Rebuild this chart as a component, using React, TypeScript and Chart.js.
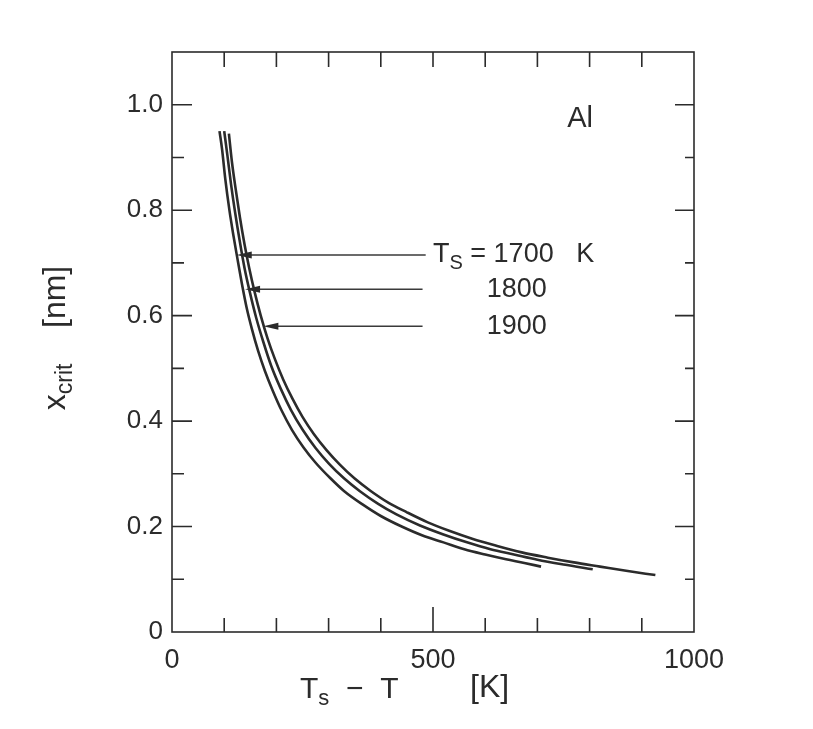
import React, { useEffect, useRef } from "react";
import { Chart, registerables } from "chart.js";

Chart.register(...registerables);

// Ts - T [K]  vs  x_crit [nm]
const deltaT1700 = [91, 96, 102, 110, 118, 125, 134, 143, 153, 165, 178, 192, 210, 230, 252, 276, 303, 330, 365, 400, 440, 480, 520, 560, 600, 640, 675, 707];
const xcrit1700 = [0.95, 0.915, 0.86, 0.8, 0.75, 0.71, 0.66, 0.615, 0.575, 0.533, 0.495, 0.46, 0.42, 0.383, 0.35, 0.32, 0.292, 0.267, 0.242, 0.22, 0.2, 0.183, 0.17, 0.157, 0.147, 0.138, 0.131, 0.124];

const deltaT1800 = [100, 106, 113, 121, 130, 139, 149, 161, 175, 190, 208, 228, 250, 275, 301, 330, 360, 395, 430, 475, 520, 565, 610, 655, 700, 750, 806];
const xcrit1800 = [0.95, 0.905, 0.85, 0.795, 0.74, 0.69, 0.645, 0.597, 0.55, 0.505, 0.462, 0.421, 0.384, 0.349, 0.319, 0.291, 0.267, 0.243, 0.223, 0.202, 0.185, 0.17, 0.157, 0.147, 0.137, 0.128, 0.119];

const deltaT1900 = [109, 115, 122, 130, 139, 148, 158, 170, 183, 197, 213, 231, 250, 272, 296, 322, 350, 380, 415, 450, 490, 531, 575, 620, 670, 720, 770, 820, 870, 926];
const xcrit1900 = [0.945, 0.89, 0.84, 0.787, 0.735, 0.69, 0.646, 0.6, 0.557, 0.518, 0.479, 0.442, 0.408, 0.375, 0.345, 0.317, 0.291, 0.268, 0.245, 0.227, 0.208, 0.192, 0.177, 0.164, 0.151, 0.141, 0.132, 0.124, 0.116, 0.108];

// Arrows pointing at the curves: level (x_crit), tip and tail (Ts - T)
const arrowLevels = [0.715, 0.65, 0.58];
const arrowTips = [124, 140, 175];
const arrowTails = [486, 480, 480];
const seriesNames = ["1700", "1800", "1900"];

const xTickLabels = [0, 500, 1000];
const yTickLabels = [0, 0.2, 0.4, 0.6, 0.8, 1.0];

const FONT = "'Liberation Sans', Arial, sans-serif";
const INK = "#2b2b2b";

type Part = { t: string; sub?: boolean };

function partsWidth(ctx: CanvasRenderingContext2D, parts: Part[], size: number, subSize: number) {
  let w = 0;
  for (const p of parts) {
    ctx.font = `${p.sub ? subSize : size}px ${FONT}`;
    w += ctx.measureText(p.t).width;
  }
  return w;
}

function drawParts(ctx: CanvasRenderingContext2D, parts: Part[], x: number, y: number, size: number, subSize: number, subDrop: number) {
  let cx = x;
  for (const p of parts) {
    ctx.font = `${p.sub ? subSize : size}px ${FONT}`;
    ctx.fillText(p.t, cx, p.sub ? y + subDrop : y);
    cx += ctx.measureText(p.t).width;
  }
}

const decorPlugin = {
  id: "decor",
  afterDatasetsDraw(chart: any) {
    const ctx: CanvasRenderingContext2D = chart.ctx;
    const { left, right, top, bottom } = chart.chartArea;
    const xs = chart.scales.x;
    const ys = chart.scales.y;
    ctx.save();
    ctx.strokeStyle = INK;
    ctx.fillStyle = INK;
    ctx.lineWidth = 1.6;
    // frame
    ctx.strokeRect(left, top, right - left, bottom - top);
    // inward ticks on x (bottom and top)
    for (const t of xs.ticks) {
      const v = t.value;
      if (v <= 0 || v >= 1000) continue;
      const px = xs.getPixelForValue(v);
      const lb = v === 500 ? 25 : 14;
      ctx.beginPath();
      ctx.moveTo(px, bottom);
      ctx.lineTo(px, bottom - lb);
      ctx.moveTo(px, top);
      ctx.lineTo(px, top + 15);
      ctx.stroke();
    }
    // inward ticks on y (left and right)
    for (const t of ys.ticks) {
      const v = t.value;
      if (v <= 0.001 || v >= 1.099) continue;
      const py = ys.getPixelForValue(v);
      const major = Math.round(v * 10) % 2 === 0;
      ctx.beginPath();
      ctx.moveTo(left, py);
      ctx.lineTo(left + (major ? 20 : 12), py);
      ctx.moveTo(right, py);
      ctx.lineTo(right - (major ? 19 : 9), py);
      ctx.stroke();
    }
    // arrows
    ctx.lineWidth = 1.4;
    ctx.strokeStyle = "#3a3a3a";
    for (let i = 0; i < arrowLevels.length; i++) {
      const py = ys.getPixelForValue(arrowLevels[i]);
      const tip = xs.getPixelForValue(arrowTips[i]);
      const tail = xs.getPixelForValue(arrowTails[i]);
      ctx.beginPath();
      ctx.moveTo(tip + 10, py);
      ctx.lineTo(tail, py);
      ctx.stroke();
      ctx.beginPath();
      ctx.moveTo(tip, py);
      ctx.lineTo(tip + 15, py - 3.5);
      ctx.lineTo(tip + 15, py + 3.5);
      ctx.closePath();
      ctx.fill();
    }
    // curve labels
    ctx.textBaseline = "middle";
    ctx.textAlign = "left";
    const lx0 = xs.getPixelForValue(500);
    const lx1 = xs.getPixelForValue(603);
    const y0 = ys.getPixelForValue(arrowLevels[0]);
    drawParts(ctx, [{ t: "T" }, { t: "S", sub: true }, { t: " = " + seriesNames[0] + "   K" }], lx0, y0, 27, 20, 8);
    ctx.font = `27px ${FONT}`;
    ctx.fillText(seriesNames[1], lx1, ys.getPixelForValue(arrowLevels[1]));
    ctx.fillText(seriesNames[2], lx1, ys.getPixelForValue(arrowLevels[2]));
    // element label
    ctx.font = `29px ${FONT}`;
    ctx.fillText("Al", xs.getPixelForValue(757), ys.getPixelForValue(0.972));
    // axis titles
    drawParts(ctx, [{ t: "T" }, { t: "s", sub: true }, { t: "  −  T" }], 300, 690, 30, 22, 9);
    ctx.font = `32px ${FONT}`;
    ctx.fillText("[K]", 470, 688);
    ctx.translate(56, 338);
    ctx.rotate(-Math.PI / 2);
    const yParts: Part[] = [{ t: "x" }, { t: "crit", sub: true }, { t: "    [nm]" }];
    const w = partsWidth(ctx, yParts, 32, 23);
    drawParts(ctx, yParts, -w / 2, 0, 32, 23, 10);
    ctx.restore();
  },
};

export default function App() {
  const ref = useRef<HTMLCanvasElement | null>(null);
  useEffect(() => {
    if (!ref.current) return;
    const mk = (xs: number[], ys: number[]) => xs.map((x, i) => ({ x, y: ys[i] }));
    const line = (label: string, data: any[]) => ({
      label,
      data,
      borderColor: INK,
      borderWidth: 2.6,
      pointRadius: 0,
      cubicInterpolationMode: "monotone" as const,
      fill: false,
    });
    const chart = new Chart(ref.current, {
      type: "line",
      data: {
        datasets: [
          line("1700 K", mk(deltaT1700, xcrit1700)),
          line("1800 K", mk(deltaT1800, xcrit1800)),
          line("1900 K", mk(deltaT1900, xcrit1900)),
        ],
      },
      options: {
        animation: false,
        responsive: false,
        devicePixelRatio: 1,
        layout: { padding: { top: 52, right: 119, left: 0, bottom: 0 } },
        plugins: { legend: { display: false }, title: { display: false }, tooltip: { enabled: false } },
        scales: {
          x: {
            type: "linear",
            min: 0,
            max: 1000,
            grid: { display: false, drawTicks: false },
            border: { display: false },
            afterFit: (s: any) => {
              s.height = 97;
            },
            ticks: {
              stepSize: 100,
              autoSkip: false,
              maxRotation: 0,
              padding: 12,
              color: INK,
              font: { family: FONT, size: 27 },
              callback: (v: any) => (xTickLabels.includes(Number(v)) ? String(v) : ""),
            },
          },
          y: {
            type: "linear",
            min: 0,
            max: 1.1,
            grid: { display: false, drawTicks: false },
            border: { display: false },
            afterFit: (s: any) => {
              s.width = 172;
            },
            ticks: {
              stepSize: 0.1,
              autoSkip: false,
              padding: 9,
              color: INK,
              font: { family: FONT, size: 26 },
              callback: (v: any) => {
                const n = Math.round(Number(v) * 10) / 10;
                if (!yTickLabels.some((t) => Math.abs(t - n) < 1e-6)) return "";
                return n === 0 ? "0" : n.toFixed(1);
              },
            },
          },
        },
      },
      plugins: [decorPlugin],
    });
    return () => chart.destroy();
  }, []);
  return (
    <div style={{ position: "absolute", left: 0, top: 0, width: 813, height: 729, background: "#fff" }}>
      <canvas ref={ref} width={813} height={729} style={{ width: 813, height: 729 }} />
    </div>
  );
}
